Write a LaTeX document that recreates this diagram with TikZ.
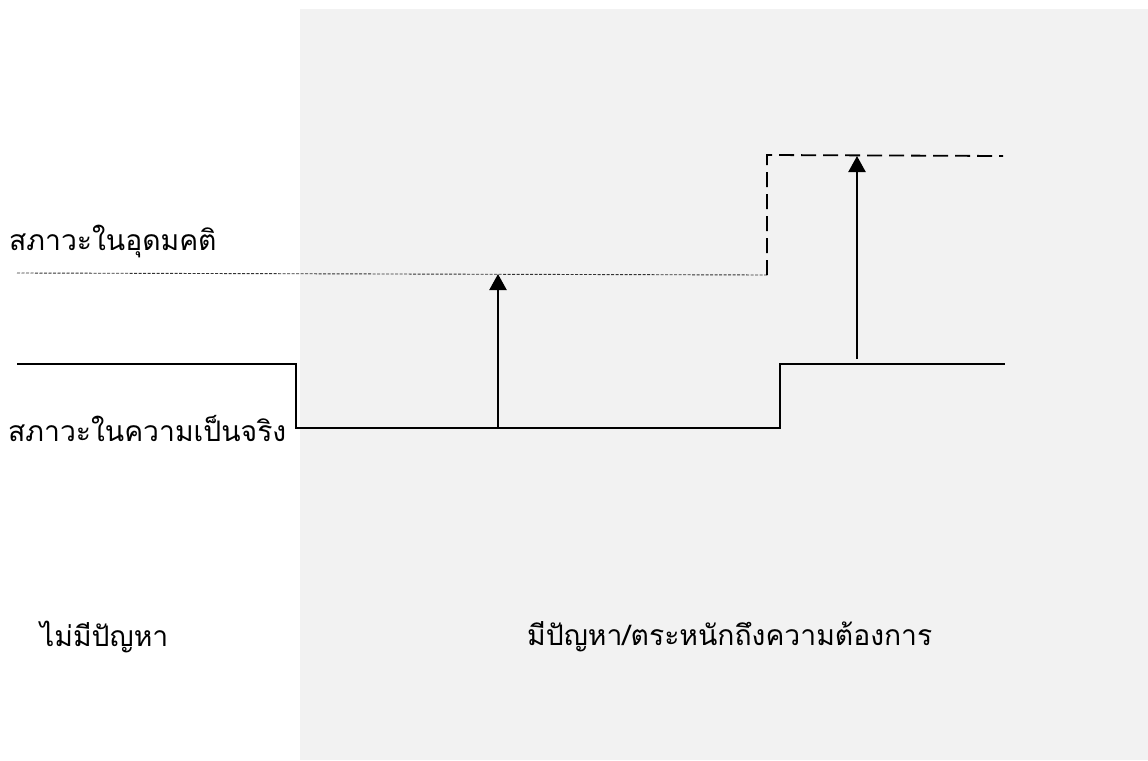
\documentclass[tikz,border=0pt]{standalone}
\usepackage{fontspec}
\newfontfamily\thaifont[Script=Thai]{Loma}
\usetikzlibrary{arrows.meta}
\begin{document}
\begin{tikzpicture}[x=1pt,y=-1pt,
  lbl/.style={font=\thaifont\fontsize{28.3}{34}\selectfont, inner sep=0pt, anchor=west},
  realline/.style={line width=1.8pt, black},
  ideal/.style={line width=0.9pt, black!80, dash pattern=on 3pt off 1.5pt},
  future/.style={line width=1.8pt, black, dash pattern=on 15pt off 7pt},
  gap/.style={line width=2.2pt, black, -{Triangle[width=17pt,length=16pt]}}]
\useasboundingbox (0,0) rectangle (1148,760);
\fill[white] (0,0) rectangle (1148,760);
\fill[black!5] (300,9) rectangle (1148,760);
% coordinates
\coordinate (i0) at (17,273);
\coordinate (i1) at (767,275);
\coordinate (f0) at (767,155);
\coordinate (f1) at (1003,156);
\coordinate (r0) at (17,364);
\coordinate (r1) at (296,364);
\coordinate (r2) at (296,428);
\coordinate (r3) at (780,428);
\coordinate (r4) at (780,364);
\coordinate (r5) at (1005,364);
\coordinate (a1s) at (498,428);
\coordinate (a1e) at (498,274);
\coordinate (a2s) at (857,359);
\coordinate (a2e) at (857,156);
% lines
\draw[ideal] (i0) -- (i1);
\draw[future] (i1) -- (f0) -- (f1);
\draw[realline, line join=miter] (r0) -- (r1) -- (r2) -- (r3) -- (r4) -- (r5);
\draw[line width=2.6pt] (555,428) -- (576,428);
\draw[gap] (a1s) -- (a1e);
\draw[gap] (a2s) -- (a2e);
% labels
\node[lbl] (ideal) at (9,241) {สภาวะในอุดมคติ};
\node[lbl] (real) at (8,428) {สภาวะในความเป็นจริง};
\node[lbl] (noprob) at (40,637) {ไม่มีปัญหา};
\node[lbl] (prob) at (527,637) {มีปัญหา/ตระหนักถึงความต้องการ};
\end{tikzpicture}
\end{document}
